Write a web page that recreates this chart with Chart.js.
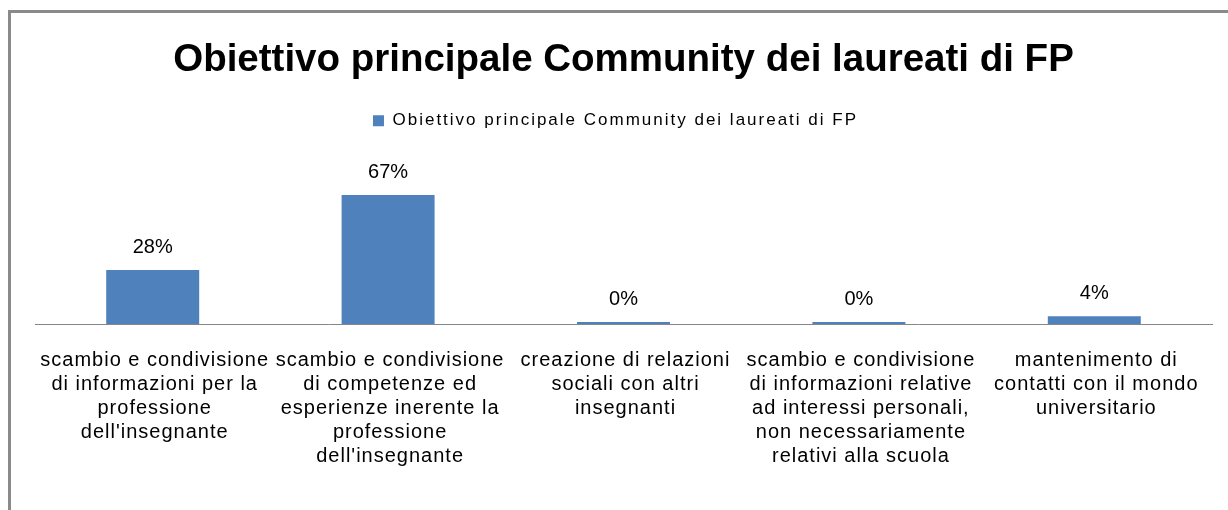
<!DOCTYPE html>
<html><head><meta charset="utf-8">
<script src="https://cdn.jsdelivr.net/npm/chart.js@4/dist/chart.umd.min.js"></script>
<style>
html,body{margin:0;padding:0;background:#fff;overflow:hidden}
#wrap{position:relative;width:1228px;height:510px}
#frame{position:absolute;left:8px;top:10px;width:1300px;height:600px;border-left:3px solid #8a8a8a;border-top:3px solid #8a8a8a;pointer-events:none}
canvas{position:absolute;left:0;top:0}
</style></head><body>
<div id="wrap"><canvas id="c" width="1228" height="510"></canvas><div id="frame"></div></div>
<script>
const chartTitle = "Obiettivo principale Community dei laureati di FP";
const seriesName = "Obiettivo principale Community dei laureati di FP";
const categories = [
  ["scambio e condivisione", "di informazioni per la", "professione", "dell'insegnante"],
  ["scambio e condivisione", "di competenze ed", "esperienze inerente la", "professione", "dell'insegnante"],
  ["creazione di relazioni", "sociali con altri", "insegnanti"],
  ["scambio e condivisione", "di informazioni relative", "ad interessi personali,", "non necessariamente", "relativi alla scuola"],
  ["mantenimento di", "contatti con il mondo", "universitario"]
];
const values = [28, 67, 0, 0, 4];

const FONT = '"Liberation Sans", Arial, sans-serif';

function withSpacing(obj, methods, sp, dx) {
  methods.forEach(m => {
    const orig = obj[m];
    obj[m] = function (...args) {
      const c = this.ctx;
      const prev = c.letterSpacing;
      c.letterSpacing = sp;
      const shift = (m.startsWith('draw') && dx) ? dx : 0;
      if (shift) { c.save(); c.translate(shift, 0); }
      try { return orig.apply(this, args); }
      finally {
        if (shift) c.restore();
        c.letterSpacing = prev;
      }
    };
  });
}

const textSpacing = {
  id: 'textSpacing',
  beforeLayout(chart) {
    if (chart.legend && !chart.legend._spaced) {
      withSpacing(chart.legend, ['update', 'draw'], '2px', -8);
      chart.legend._spaced = true;
    }
    const xs = chart.scales.x;
    if (xs && !xs._spaced) {
      withSpacing(xs, ['drawLabels'], '1px', 2);
      xs._spaced = true;
    }
  }
};

const valueLabels = {
  id: 'valueLabels',
  afterDatasetsDraw(chart) {
    const ctx = chart.ctx;
    const meta = chart.getDatasetMeta(0);
    ctx.save();
    ctx.font = '20px ' + FONT;
    ctx.fillStyle = '#000';
    ctx.textAlign = 'center';
    ctx.textBaseline = 'middle';
    meta.data.forEach((bar, i) => {
      ctx.fillText(Math.round(values[i]) + '%', bar.x, bar.y - 23);
    });
    ctx.restore();
  }
};

new Chart(document.getElementById('c'), {
  type: 'bar',
  data: {
    labels: categories,
    datasets: [{
      label: seriesName,
      data: values,
      backgroundColor: '#4F81BD',
      borderWidth: 0,
      minBarLength: 2,
      barPercentage: 0.79,
      categoryPercentage: 0.5
    }]
  },
  options: {
    responsive: false,
    animation: false,
    devicePixelRatio: 1,
    layout: { padding: { left: 35, right: 16, top: 0, bottom: 18 } },
    plugins: {
      title: {
        display: true,
        text: chartTitle,
        color: '#000',
        font: { family: FONT, size: 38.5, weight: 'bold' },
        padding: { top: 37, bottom: 19 }
      },
      legend: {
        display: true,
        position: 'top',
        labels: {
          color: '#000',
          font: { family: FONT, size: 17 },
          boxWidth: 11,
          boxHeight: 11,
          padding: 10
        }
      },
      tooltip: { enabled: false }
    },
    scales: {
      x: {
        grid: { display: false, drawTicks: false },
        border: { display: true, color: '#868686', width: 1 },
        ticks: {
          color: '#000',
          font: { family: FONT, size: 20, lineHeight: 1.2 },
          padding: 24,
          maxRotation: 0,
          autoSkip: false
        }
      },
      y: {
        display: false,
        min: 0,
        max: 96
      }
    }
  },
  plugins: [textSpacing, valueLabels]
});
</script>
</body></html>
